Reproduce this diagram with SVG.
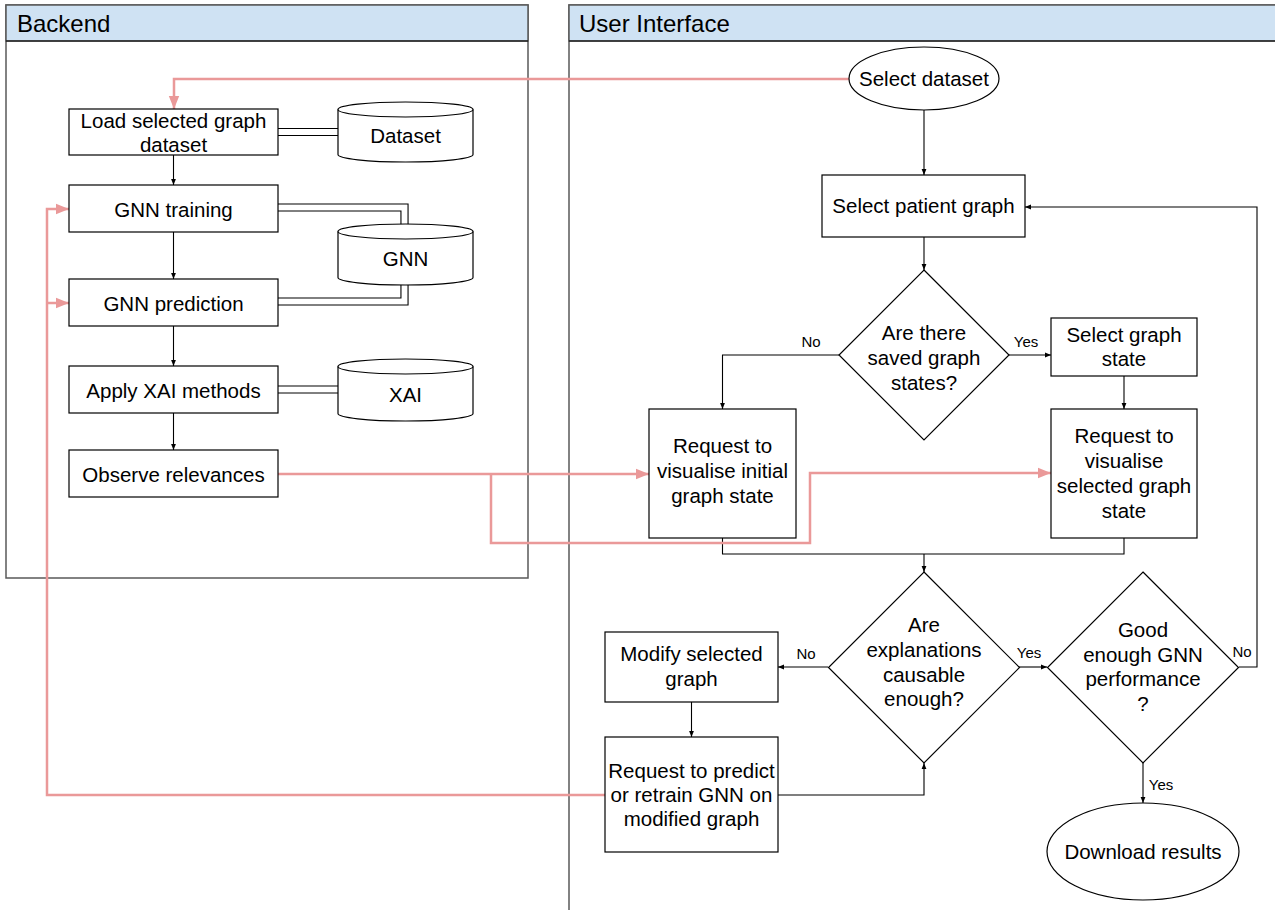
<svg xmlns="http://www.w3.org/2000/svg" width="1275" height="910" viewBox="0 0 1275 910">
<style>
.panel{fill:#fff;stroke:#595959;stroke-width:1.5}
.hdr{fill:#cfe2f3;stroke:#595959;stroke-width:1.5}
.hline{stroke:#000;stroke-width:1.2}
.htxt{font-family:"Liberation Sans",Arial,sans-serif;font-size:24px;fill:#000}
.box{fill:#fff;stroke:#000;stroke-width:1.2}
.t{font-family:"Liberation Sans",Arial,sans-serif;font-size:20.5px;fill:#000;text-anchor:middle}
.lbl{font-family:"Liberation Sans",Arial,sans-serif;font-size:15px;fill:#000;text-anchor:middle}
.c{fill:none;stroke:#000;stroke-width:1.1}
.p{fill:none;stroke:#ea9999;stroke-width:2.5}
.lo{fill:none;stroke:#000;stroke-width:8.2}
.li{fill:none;stroke:#fff;stroke-width:6}
</style>
<defs>
<marker id="ah" viewBox="0 0 10 10" refX="10" refY="5" markerWidth="6" markerHeight="6" markerUnits="userSpaceOnUse" orient="auto"><path d="M0,1 L10,5 L0,9 z" fill="#000"/></marker>
<marker id="ph" viewBox="0 0 10 10" refX="10" refY="5" markerWidth="13" markerHeight="13" markerUnits="userSpaceOnUse" orient="auto"><path d="M0,1 L10,5 L0,9 z" fill="#ea9999"/></marker>
</defs>
<rect width="1275" height="910" fill="#fff"/>
<g id="panel-backend">
<rect class="panel" x="6" y="5" width="522" height="573"/>
<rect class="hdr" x="6" y="5" width="522" height="36"/>
<line class="hline" x1="6" y1="41" x2="528" y2="41"/>
<text class="htxt" x="17" y="32">Backend</text>
</g>
<g id="panel-ui">
<rect class="panel" x="569" y="5" width="720" height="920"/>
<rect class="hdr" x="569" y="5" width="720" height="36"/>
<line class="hline" x1="569" y1="41" x2="1289" y2="41"/>
<text class="htxt" x="579" y="32">User Interface</text>
</g>
<g id="links">
<path class="lo" d="M278,132 H340"/><path class="li" d="M277,132 H341"/>
<path class="lo" d="M278,207.5 H404.5 V226" stroke-linejoin="miter"/><path class="li" d="M277,207.5 H404.5 V227"/>
<path class="lo" d="M404.5,283 V301.5 H278"/><path class="li" d="M404.5,282 V301.5 H277"/>
<path class="lo" d="M278,389.5 H340"/><path class="li" d="M277,389.5 H341"/>
</g>
<g id="connectors">
<path class="c" d="M173.5,155 V185" marker-end="url(#ah)"/>
<path class="c" d="M173.5,232 V279" marker-end="url(#ah)"/>
<path class="c" d="M173.5,326 V366" marker-end="url(#ah)"/>
<path class="c" d="M173.5,413 V450" marker-end="url(#ah)"/>
<path class="c" d="M924,110 V175" marker-end="url(#ah)"/>
<path class="c" d="M924,237 V270" marker-end="url(#ah)"/>
<path class="c" d="M839,355 H722.5 V409" marker-end="url(#ah)"/>
<path class="c" d="M1009,355 H1051" marker-end="url(#ah)"/>
<path class="c" d="M1124,376 V409" marker-end="url(#ah)"/>
<path class="c" d="M722.5,538 V554 H1124 V538"/>
<path class="c" d="M924,554 V572" marker-end="url(#ah)"/>
<path class="c" d="M828,667 H778" marker-end="url(#ah)"/>
<path class="c" d="M691.5,702 V737" marker-end="url(#ah)"/>
<path class="c" d="M778,795 H924 V763" marker-end="url(#ah)"/>
<path class="c" d="M1019,667 H1047" marker-end="url(#ah)"/>
<path class="c" d="M1239,667 H1257 V207 H1025" marker-end="url(#ah)"/>
<path class="c" d="M1143,763 V803" marker-end="url(#ah)"/>
<path class="p" d="M849,79 H174 V109" marker-end="url(#ph)"/>
<path class="p" d="M278,474 H649" marker-end="url(#ph)"/>
<path class="p" d="M491,474 V543 H810 V473 H1051" marker-end="url(#ph)"/>
<path class="p" d="M605,795 H47 V209 H69" marker-end="url(#ph)"/>
<path class="p" d="M47,303 H69" marker-end="url(#ph)"/>
<text class="lbl" x="811" y="347">No</text>
<text class="lbl" x="1026" y="347">Yes</text>
<text class="lbl" x="806" y="659">No</text>
<text class="lbl" x="1029" y="658">Yes</text>
<text class="lbl" x="1242" y="657">No</text>
<text class="lbl" x="1161" y="790">Yes</text>
</g>
<g id="n-load"><rect class="box" x="69" y="109" width="209" height="46"/><text class="t" x="173.5" y="128">Load selected graph</text><text class="t" x="173.5" y="152">dataset</text></g>
<g id="n-train"><rect class="box" x="69" y="185" width="209" height="47"/><text class="t" x="173.5" y="216.5">GNN training</text></g>
<g id="n-pred"><rect class="box" x="69" y="279" width="209" height="47"/><text class="t" x="173.5" y="310.5">GNN prediction</text></g>
<g id="n-xai"><rect class="box" x="69" y="366" width="209" height="47"/><text class="t" x="173.5" y="398">Apply XAI methods</text></g>
<g id="n-obs"><rect class="box" x="69" y="450" width="209" height="47"/><text class="t" x="173.5" y="481.5">Observe relevances</text></g>
<g id="db-dataset"><path class="box" d="M338,109.5 A67.5,7.5 0 0 1 473,109.5 V154.5 A67.5,7.5 0 0 1 338,154.5 Z"/><path class="c" d="M338,109.5 A67.5,7.5 0 0 0 473,109.5"/><text class="t" x="405.5" y="143">Dataset</text></g>
<g id="db-gnn"><path class="box" d="M338,231.5 A67.5,7.5 0 0 1 473,231.5 V277.5 A67.5,7.5 0 0 1 338,277.5 Z"/><path class="c" d="M338,231.5 A67.5,7.5 0 0 0 473,231.5"/><text class="t" x="405.5" y="265.5">GNN</text></g>
<g id="db-xai"><path class="box" d="M338,366.5 A67.5,7.5 0 0 1 473,366.5 V413.5 A67.5,7.5 0 0 1 338,413.5 Z"/><path class="c" d="M338,366.5 A67.5,7.5 0 0 0 473,366.5"/><text class="t" x="405.5" y="401.5">XAI</text></g>
<g id="n-selds"><ellipse class="box" cx="924" cy="78.5" rx="75" ry="31.5"/><text class="t" x="924" y="86">Select dataset</text></g>
<g id="n-selpat"><rect class="box" x="822" y="175" width="203" height="62"/><text class="t" x="923.5" y="213">Select patient graph</text></g>
<g id="d-saved"><path class="box" d="M924,270 L1009,355 L924,440 L839,355 Z"/><text class="t" x="924" y="340">Are there</text><text class="t" x="924" y="365">saved graph</text><text class="t" x="924" y="389.5">states?</text></g>
<g id="n-selstate"><rect class="box" x="1051" y="318" width="146" height="58"/><text class="t" x="1124" y="341.5">Select graph</text><text class="t" x="1124" y="366">state</text></g>
<g id="n-visinit"><rect class="box" x="649" y="409" width="147" height="129"/><text class="t" x="722.5" y="453">Request to</text><text class="t" x="722.5" y="478">visualise initial</text><text class="t" x="722.5" y="503">graph state</text></g>
<g id="n-vissel"><rect class="box" x="1051" y="409" width="146" height="129"/><text class="t" x="1124" y="443">Request to</text><text class="t" x="1124" y="468">visualise</text><text class="t" x="1124" y="493">selected graph</text><text class="t" x="1124" y="518">state</text></g>
<g id="d-causable"><path class="box" d="M924,572 L1019.5,667.5 L924,763 L828.5,667.5 Z"/><text class="t" x="924" y="632">Are</text><text class="t" x="924" y="657">explanations</text><text class="t" x="924" y="681.5">causable</text><text class="t" x="924" y="706">enough?</text></g>
<g id="d-perf"><path class="box" d="M1143,572 L1238.5,667.5 L1143,763 L1047.5,667.5 Z"/><text class="t" x="1143" y="637">Good</text><text class="t" x="1143" y="661.5">enough GNN</text><text class="t" x="1143" y="686">performance</text><text class="t" x="1143" y="710.5">?</text></g>
<g id="n-modify"><rect class="box" x="605" y="632" width="173" height="70"/><text class="t" x="691.5" y="661">Modify selected</text><text class="t" x="691.5" y="685.5">graph</text></g>
<g id="n-retrain"><rect class="box" x="605" y="737" width="173" height="115"/><text class="t" x="691.5" y="777.5">Request to predict</text><text class="t" x="691.5" y="801.5">or retrain GNN on</text><text class="t" x="691.5" y="825.5">modified graph</text></g>
<g id="n-download"><ellipse class="box" cx="1143" cy="851.5" rx="96" ry="48.5"/><text class="t" x="1143" y="859">Download results</text></g>
</svg>
